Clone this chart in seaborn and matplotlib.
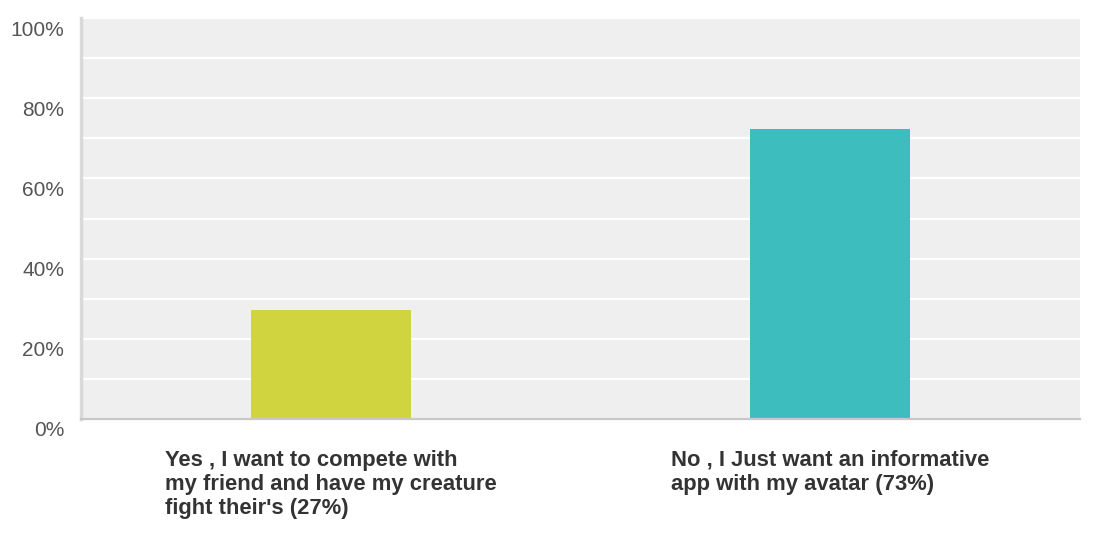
import matplotlib
matplotlib.use("Agg")
import matplotlib.pyplot as plt
import matplotlib.transforms as mtrans
import seaborn as sns
import pandas as pd
from matplotlib.ticker import MultipleLocator, FuncFormatter

# survey answers and share of respondents (%)
answers = ["Yes , I want to compete with\nmy friend and have my creature\nfight their's (27%)",
           "No , I Just want an informative\napp with my avatar (73%)"]
shares = [27.2, 72.2]
bar_colors = ["#D0D43E", "#3DBDBE"]

df = pd.DataFrame({"answer": answers, "share": shares})

sns.set_style("white")
plt.rcParams['font.family'] = ['Liberation Sans', 'DejaVu Sans']

fig = plt.figure(figsize=(10.94, 5.34), dpi=100)
ax = fig.add_axes([81/1094, 115/534, 999/1094, 401/534])
ax.set_facecolor("#EFEFEF")

sns.barplot(data=df, x="answer", y="share", hue="answer", palette=bar_colors,
            width=0.32, legend=False, ax=ax, zorder=3, saturation=1,
            linewidth=0, edgecolor="none")

ax.set_xlim(-0.5, 1.5)
ax.set_ylim(0, 100)
ax.yaxis.set_major_locator(MultipleLocator(20))
ax.yaxis.set_minor_locator(MultipleLocator(10))
ax.yaxis.set_major_formatter(FuncFormatter(lambda v, p: f"{v:.0f}%"))
ax.grid(True, axis="y", which="both", color="white", linewidth=1.6, zorder=1)
ax.set_axisbelow(True)

ax.set_xlabel("")
ax.set_ylabel("")

for s in ["top", "right"]:
    ax.spines[s].set_visible(False)
ax.spines["left"].set_color("#D9D9D9")
ax.spines["left"].set_linewidth(2.5)
ax.spines["bottom"].set_color("#C8C8C8")
ax.spines["bottom"].set_linewidth(1.6)
ax.spines["bottom"].set_zorder(4)

ax.tick_params(axis="both", which="both", length=0)
ax.tick_params(axis="y", labelsize=15, labelcolor="#555555", pad=12)
ax.tick_params(axis="x", pad=22)

ax.set_xticks(range(len(answers)))
ax.set_xticklabels(answers, fontsize=15.8, fontweight="bold", color="#333333",
                   ha="center", va="top", multialignment="left", linespacing=1.2)

# shift y labels down a bit like the original
offset = mtrans.ScaledTranslation(0, -0.10, fig.dpi_scale_trans)
for lbl in ax.get_yticklabels():
    lbl.set_transform(lbl.get_transform() + offset)

fig.savefig("out.png", dpi=100)
